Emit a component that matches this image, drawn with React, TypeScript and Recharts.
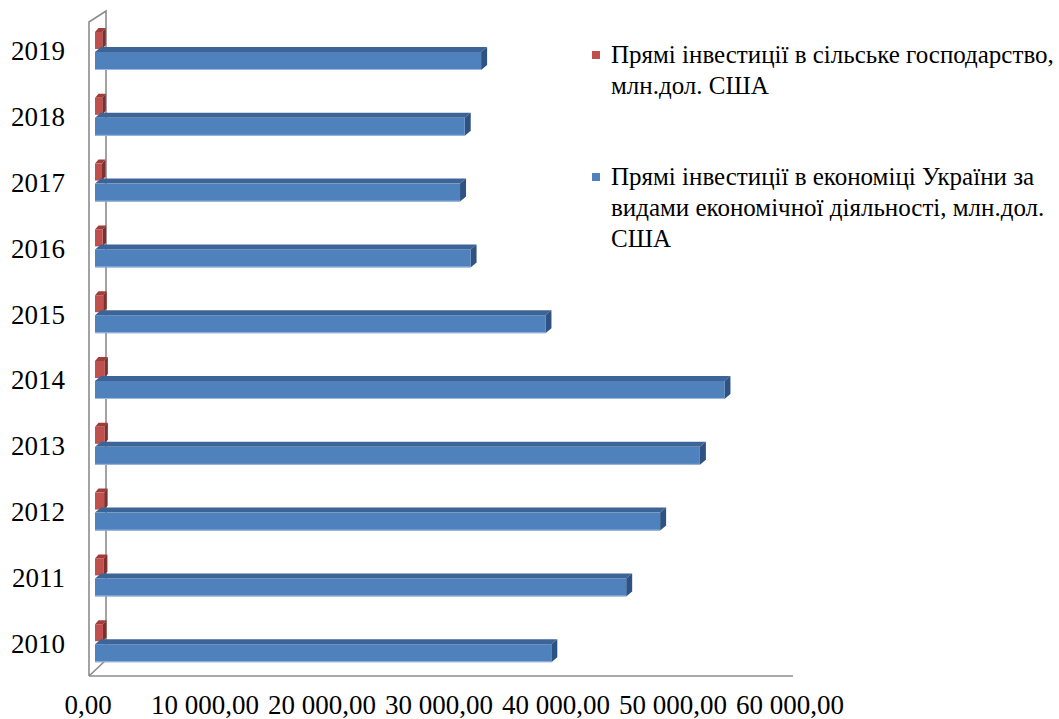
import React from 'react';
import { BarChart, Bar, XAxis, YAxis, ReferenceArea, Legend } from 'recharts';

const years = ['2010', '2011', '2012', '2013', '2014', '2015', '2016', '2017', '2018', '2019'];
const agricultureFdi = [680, 760, 780, 800, 800, 700, 650, 600, 620, 620];
const totalFdi = [39000, 45400, 48300, 51700, 53800, 38500, 32100, 31200, 31600, 33000];
const xTicks = [0, 10000, 20000, 30000, 40000, 50000, 60000];
const agriLegendLines = ['Прямі інвестиції в сільське господарство,', 'млн.дол. США'];
const totalLegendLines = ['Прямі інвестиції в економіці України за', 'видами економічної діяльності, млн.дол.', 'США'];

const data = years.map((year, i) => ({ year, agri: agricultureFdi[i], total: totalFdi[i] }));

const FONT = 'Liberation Serif, Times New Roman, serif';

const fmt = (v: number) => {
  const s = Math.round(v).toString().replace(/\B(?=(\d{3})+(?!\d))/g, ' ');
  return s + ',00';
};

const make3DBar = (front: string, top: string, side: string, dx: number, dy: number, edge?: string) => (props: any) => {
  const { x, y, width, height } = props;
  if (x == null || y == null || !width || !height) return null;
  const x1 = x + width;
  const y1 = y + height;
  return (
    <g>
      <polygon points={`${x},${y} ${x1},${y} ${x1 + dx},${y - dy} ${x + dx},${y - dy}`} fill={top} />
      <polygon points={`${x1},${y} ${x1 + dx},${y - dy} ${x1 + dx},${y1 - dy} ${x1},${y1}`} fill={side} />
      <rect x={x} y={y} width={width} height={height} fill={front} />
      {edge ? <line x1={x} y1={y1 - 0.5} x2={x1} y2={y1 - 0.5} stroke={edge} strokeWidth={1} /> : null}
    </g>
  );
};

const RedBar = make3DBar('#C0504D', '#9E3D3A', '#7F2F2D', 3.5, 4);
const BlueBar = make3DBar('#4F81BD', '#3C6496', '#2E5282', 6, 5, '#9DB9DD');

const WallShape = (props: any) => {
  const { x, y, width, height } = props;
  if (x == null) return null;
  const bottom = y + height;
  const fx = x - 6;
  const bx = x + 11;
  const c = '#8C8C8C';
  return (
    <g fill="none" stroke={c} strokeWidth={1.6}>
      <polyline points={`${fx},${bottom} ${fx},${y + 4} ${bx},${y - 7} ${bx},${bottom - 16} ${fx},${bottom}`} />
      <line x1={fx} y1={bottom} x2={x + width - 4} y2={bottom} />
    </g>
  );
};

const XTick = (props: any) => {
  const { x, y, payload } = props;
  return (
    <text x={x - 7} y={y + 30} textAnchor="middle" fontFamily={FONT} fontSize={27} fill="#000">
      {fmt(payload.value)}
    </text>
  );
};

const YTick = (props: any) => {
  const { x, y, payload } = props;
  return (
    <text x={x - 2} y={y} dy="0.35em" textAnchor="end" fontFamily={FONT} fontSize={27} fill="#000">
      {payload.value}
    </text>
  );
};

const legendItems = [
  { color: '#C0504D', lines: agriLegendLines },
  { color: '#4F81BD', lines: totalLegendLines },
];

const LegendContent = () => (
  <div style={{ fontFamily: FONT, fontSize: 25, color: '#000', lineHeight: '31px' }}>
    {legendItems.map((it, i) => (
      <div key={i} style={{ display: 'flex', alignItems: 'flex-start', marginBottom: i === 0 ? 60 : 0 }}>
        <div style={{ width: 8, height: 8, background: it.color, marginTop: 12, marginRight: 11, flexShrink: 0 }} />
        <div>
          {it.lines.map((l, j) => (
            <div key={j} style={{ whiteSpace: 'nowrap' }}>{l}</div>
          ))}
        </div>
      </div>
    ))}
  </div>
);

export default function App() {
  return (
    <div style={{ position: 'absolute', left: 0, top: 0, width: 1059, height: 719, background: '#fff' }}>
      <BarChart
        width={1059}
        height={719}
        data={data}
        layout="vertical"
        margin={{ top: 18, right: 262, bottom: 0, left: 0 }}
        barGap={3}
      >
        <ReferenceArea x1={0} x2={60000} shape={WallShape} ifOverflow="visible" />
        <XAxis
          type="number"
          domain={[0, 60000]}
          ticks={xTicks}
          height={43}
          axisLine={false}
          tickLine={false}
          tick={<XTick />}
          interval={0}
        />
        <YAxis
          type="category"
          dataKey="year"
          reversed
          width={95}
          axisLine={false}
          tickLine={false}
          tickMargin={22}
          tick={<YTick />}
          interval={0}
        />
        <Legend
          layout="horizontal"
          verticalAlign="middle"
          align="center"
          content={<LegendContent />}
          wrapperStyle={{ position: 'absolute', left: 592, top: 39, width: 467 }}
        />
        <Bar dataKey="agri" barSize={17} shape={RedBar} isAnimationActive={false} />
        <Bar dataKey="total" barSize={18} shape={BlueBar} isAnimationActive={false} />
      </BarChart>
    </div>
  );
}
